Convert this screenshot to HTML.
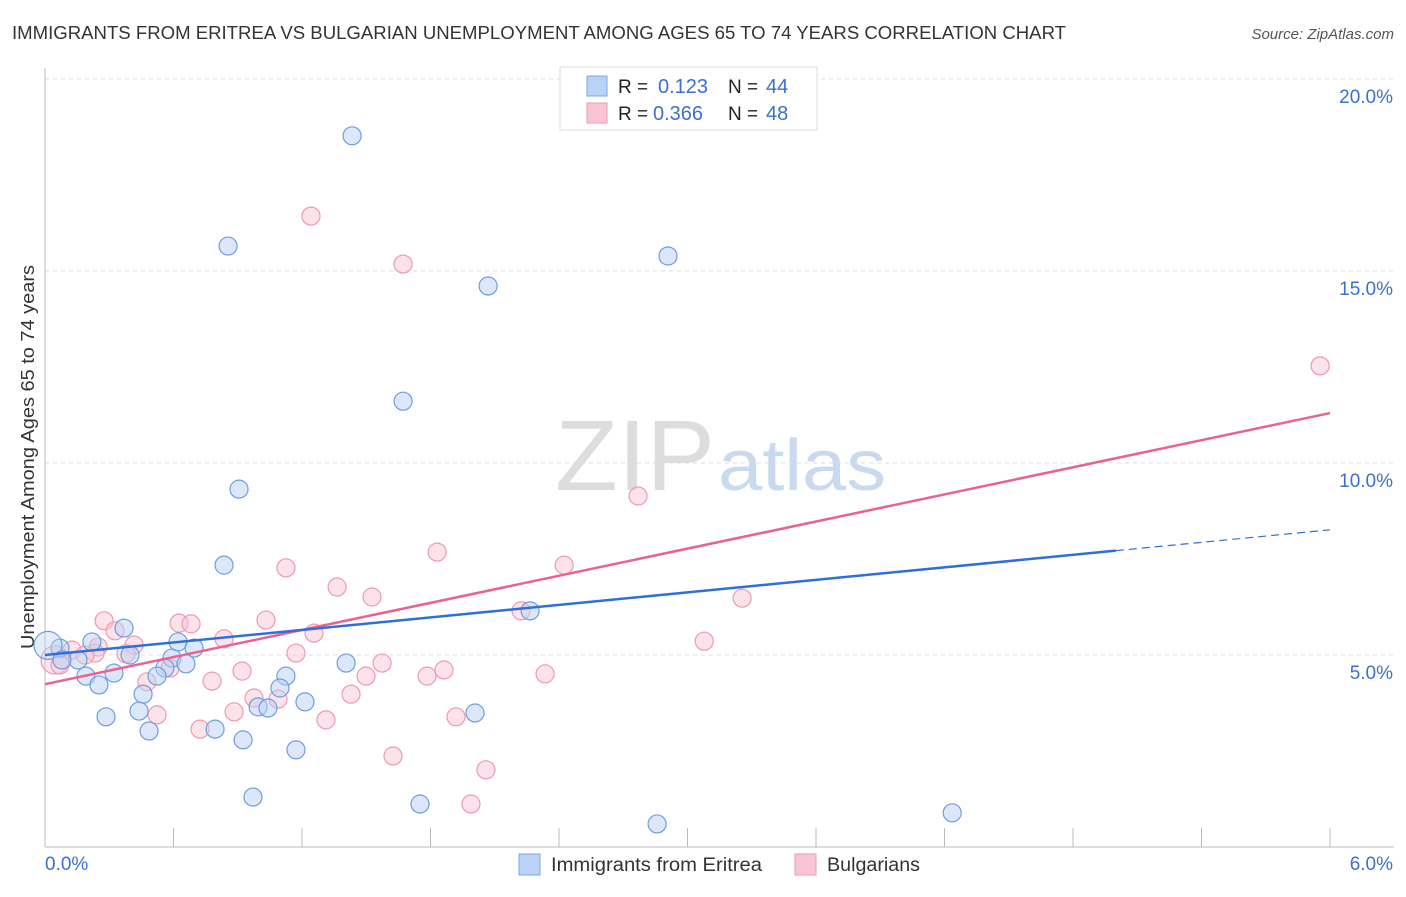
<!DOCTYPE html>
<html><head><meta charset="utf-8"><style>
body{margin:0;background:#fff;font-family:"Liberation Sans",sans-serif;}
svg text{font-family:"Liberation Sans",sans-serif;}
</style></head><body>
<svg id="chart" width="1406" height="892" xmlns="http://www.w3.org/2000/svg">
<text x="12" y="39" font-size="18" fill="#333" textLength="1054" lengthAdjust="spacingAndGlyphs">IMMIGRANTS FROM ERITREA VS BULGARIAN UNEMPLOYMENT AMONG AGES 65 TO 74 YEARS CORRELATION CHART</text>
<text x="1394" y="39" font-size="15" fill="#555" font-style="italic" text-anchor="end">Source: ZipAtlas.com</text>
<text x="555" y="490" font-size="100" fill="#ddd" textLength="160" lengthAdjust="spacingAndGlyphs" font-family="Liberation Serif">ZIP</text>
<text x="718" y="490" font-size="72" fill="#c9d9f0" textLength="168" lengthAdjust="spacingAndGlyphs">atlas</text>
<text transform="translate(34,457) rotate(-90)" font-size="18" fill="#333" text-anchor="middle" textLength="384" lengthAdjust="spacingAndGlyphs">Unemployment Among Ages 65 to 74 years</text>
<g id="grid"></g><g id="axes"></g><g id="points"></g><g id="trends"></g>
<g>
<rect x="560" y="67" width="257" height="63" fill="#fff" stroke="#ddd"/>
<rect x="587" y="76" width="20" height="20" fill="#b9d2f5" stroke="#7aa7e6"/>
<rect x="587" y="103" width="20" height="20" fill="#f9c5d4" stroke="#ee99b4"/>
<text x="618" y="93" font-size="19" fill="#222">R =</text><text x="658" y="93" font-size="20" fill="#3a70d0">0.123</text>
<text x="728" y="93" font-size="19" fill="#222">N =</text><text x="766" y="93" font-size="20" fill="#3a70d0">44</text>
<text x="618" y="120" font-size="19" fill="#222">R =</text><text x="653" y="120" font-size="20" fill="#3a70d0">0.366</text>
<text x="728" y="120" font-size="19" fill="#222">N =</text><text x="766" y="120" font-size="20" fill="#3a70d0">48</text>
</g>
<g>
<rect x="519" y="854" width="21" height="21" fill="#b9d2f5" stroke="#7aa7e6"/>
<text x="551" y="871" font-size="19" fill="#333" textLength="211" lengthAdjust="spacingAndGlyphs">Immigrants from Eritrea</text>
<rect x="795" y="854" width="21" height="21" fill="#f9c5d4" stroke="#ee99b4"/>
<text x="827" y="871" font-size="19" fill="#333" textLength="93" lengthAdjust="spacingAndGlyphs">Bulgarians</text>
</g>
</svg>
<script>
const blueX=[1.434,0.855,2.909,2.069,1.672,0.906,0.836,2.265,0.369,0.219,0.621,0.070,0.696,0.014,0.154,0.397,0.593,0.658,0.560,1.406,0.322,0.191,0.523,0.252,1.125,1.097,0.458,1.214,0.439,0.995,1.041,0.285,2.008,0.486,0.794,0.925,1.172,0.971,1.751,4.236,2.858,0.079];
const blueY=[18.52,15.65,15.39,14.61,11.61,9.32,7.34,6.15,5.70,5.34,5.34,5.18,5.18,5.25,4.87,5.00,4.92,4.77,4.66,4.79,4.53,4.45,4.45,4.22,4.45,4.14,3.98,3.78,3.54,3.65,3.62,3.39,3.49,3.02,3.07,2.79,2.53,1.30,1.12,0.89,0.60,4.87];
const pinkX=[1.242,1.672,5.954,2.769,1.831,1.125,2.424,1.364,1.527,3.255,2.223,0.276,1.032,0.626,0.682,0.327,0.416,1.256,0.836,3.078,0.248,0.126,0.378,0.234,0.047,0.070,1.172,1.574,0.920,1.863,1.499,2.335,1.784,0.780,0.476,1.429,0.976,1.088,0.883,0.523,1.919,1.312,0.724,1.625,2.059,1.989,0.584,0.187];
const pinkY=[16.43,15.18,12.53,9.14,7.68,7.27,7.34,6.77,6.51,6.48,6.15,5.89,5.91,5.83,5.81,5.63,5.26,5.57,5.42,5.36,5.21,5.13,5.03,5.05,4.87,4.74,5.05,4.79,4.58,4.61,4.45,4.51,4.45,4.32,4.30,3.98,3.88,3.85,3.52,3.44,3.39,3.31,3.07,2.37,2.01,1.12,4.66,5.00];
const yTicks=[5,10,15,20];
const yTickLabels=["5.0%","10.0%","15.0%","20.0%"];
const xTickVals=[0,0.6,1.2,1.8,2.4,3.0,3.6,4.2,4.8,5.4,6.0];
const blueTrend=[5.0,8.26];
const pinkTrend=[4.24,11.30];
const blueSolidEnd=5.0;
const NS="http://www.w3.org/2000/svg";
const X=v=>45+v/6*1285, Y=v=>847-v*38.4;
function mk(t,a,p){const e=document.createElementNS(NS,t);for(const k in a)e.setAttribute(k,a[k]);p.appendChild(e);return e;}
const grid=document.getElementById('grid'),axes=document.getElementById('axes'),pts=document.getElementById('points'),tr=document.getElementById('trends');
yTicks.forEach((v,i)=>{
 const l=mk('line',{x1:45,x2:1394,y1:Y(v),y2:Y(v),stroke:'#ddd','stroke-dasharray':'4,4'},grid);
 
 
 const t=mk('text',{x:1393,y:Y(v)+24,'font-size':19,fill:'#3a70d0','text-anchor':'end'},axes);
 t.textContent=yTickLabels[i];
 
 
});
const yl=mk('line',{x1:45,x2:45,y1:68,y2:847,stroke:'#bbb'},axes);


const xl=mk('line',{x1:45,x2:1394,y1:847,y2:847,stroke:'#bbb'},axes);


xTickVals.forEach(v=>{
 const t=mk('line',{x1:X(v),x2:X(v),y1:828,y2:847,stroke:'#bbb'},axes);
 
 
});
const x0=mk('text',{x:45,y:870,'font-size':19,fill:'#3a70d0'},axes);x0.textContent='0.0%';


const x1=mk('text',{x:1393,y:870,'font-size':19,fill:'#3a70d0','text-anchor':'end'},axes);x1.textContent='6.0%';


function dots(xs,ys,fill,stroke,name){xs.forEach((x,i)=>{
 const big=x<0.06;
 const c=mk('circle',{cx:X(x),cy:Y(ys[i]),r:big?14:9,fill:fill,'fill-opacity':big?0.4:0.5,stroke:stroke,'stroke-width':1.2},pts);
 
 
});}
dots(pinkX,pinkY,'#f9c5d4','#ee99b4','bulgarian-point');
dots(blueX,blueY,'#b9d2f5','#6d9de0','eritrea-point');
const bt=v=>blueTrend[0]+(blueTrend[1]-blueTrend[0])*v/6;
const pt=v=>pinkTrend[0]+(pinkTrend[1]-pinkTrend[0])*v/6;
const p1=mk('line',{x1:X(0),y1:Y(pt(0)),x2:X(6),y2:Y(pt(6)),stroke:'#e8638f','stroke-width':2.5},tr);


const b1=mk('line',{x1:X(0),y1:Y(bt(0)),x2:X(blueSolidEnd),y2:Y(bt(blueSolidEnd)),stroke:'#2f6fd6','stroke-width':2.5},tr);


const b2=mk('line',{x1:X(blueSolidEnd),y1:Y(bt(blueSolidEnd)),x2:X(6),y2:Y(bt(6)),stroke:'#2f6fd6','stroke-width':1.2,'stroke-dasharray':'8,5'},tr);


</script>
</body></html>
